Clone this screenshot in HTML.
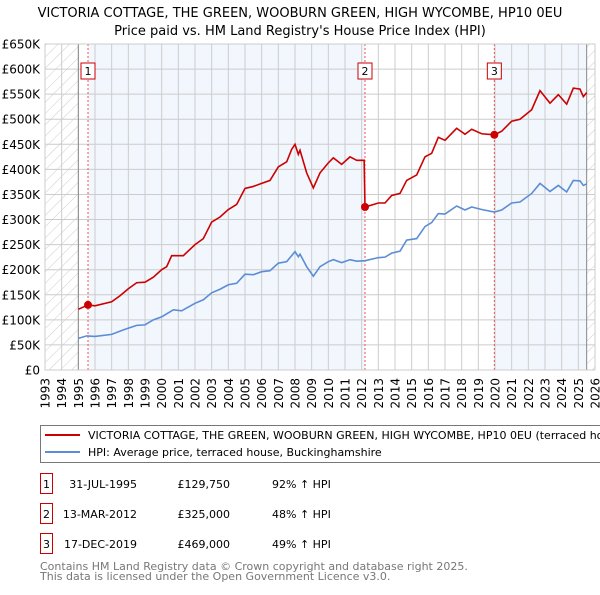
<!DOCTYPE html>
<html><head><meta charset="utf-8"><style>
body{margin:0;background:#fff;font-family:"Liberation Sans","DejaVu Sans",sans-serif;}
svg text{font-family:"DejaVu Sans","Liberation Sans",sans-serif;}
</style></head><body>
<svg id="c" width="600" height="590" xmlns="http://www.w3.org/2000/svg">
<defs><pattern id="hatch" width="8" height="8" patternUnits="userSpaceOnUse" patternTransform="rotate(45)"><rect width="8" height="8" fill="#fff"/><line x1="0" y1="0" x2="0" y2="8" stroke="#ccc" stroke-width="1"/></pattern></defs>
<text x="300" y="17" text-anchor="middle" font-size="13">VICTORIA COTTAGE, THE GREEN, WOOBURN GREEN, HIGH WYCOMBE, HP10 0EU</text>
<text x="300" y="35" text-anchor="middle" font-size="13">Price paid vs. HM Land Registry's House Price Index (HPI)</text>
<g id="plot"></g>
<rect x="40.5" y="425.5" width="570" height="37" fill="#fff" stroke="#777"/>
<line x1="45" y1="435" x2="80" y2="435" stroke="#cc0000" stroke-width="2"/>
<text x="88" y="439" font-size="11">VICTORIA COTTAGE, THE GREEN, WOOBURN GREEN, HIGH WYCOMBE, HP10 0EU (terraced house)</text>
<line x1="45" y1="452" x2="80" y2="452" stroke="#5b8dd6" stroke-width="2"/>
<text x="88" y="456" font-size="11">HPI: Average price, terraced house, Buckinghamshire</text>
<g id="table" font-size="11"></g>
<text x="40" y="570" font-size="11" fill="#777">Contains HM Land Registry data © Crown copyright and database right 2025.</text>
<text x="40" y="580" font-size="11" fill="#777">This data is licensed under the Open Government Licence v3.0.</text>
</svg>
<script>
const priceYears=[1995.0,1995.58,1996,1997,1997.5,1998,1998.5,1999,1999.5,2000,2000.3,2000.6,2001,2001.3,2002,2002.5,2003,2003.5,2004,2004.5,2005,2005.5,2006,2006.5,2007,2007.5,2007.8,2008.0,2008.2,2008.3,2008.7,2009.1,2009.5,2010,2010.3,2010.8,2011.3,2011.7,2012.15,2012.2,2013,2013.4,2013.8,2014.3,2014.7,2015.3,2015.8,2016.2,2016.6,2017,2017.7,2018.2,2018.6,2019.2,2019.96,2020.4,2021,2021.5,2022.2,2022.7,2023.3,2023.8,2024.3,2024.7,2025.1,2025.3,2025.5];
const priceValues=[121,129.75,128,136,148,162,174,175,185,200,206,228,228,228,250,262,295,305,320,330,362,366,372,378,405,415,440,450,430,438,393,363,393,413,423,410,425,418,418,325,333,333,348,352,378,389,425,432,464,458,482,470,480,471,469,476,496,500,519,557,532,549,530,562,560,545,553];
const hpiYears=[1995.0,1995.5,1996,1997,1997.7,1998.5,1999,1999.5,2000,2000.7,2001.2,2002,2002.5,2003,2003.5,2004,2004.5,2005,2005.5,2006,2006.5,2007,2007.5,2008,2008.2,2008.3,2008.7,2009.1,2009.5,2010,2010.3,2010.8,2011.3,2011.7,2012.2,2013,2013.4,2013.8,2014.3,2014.7,2015.3,2015.8,2016.2,2016.6,2017,2017.7,2018.2,2018.6,2019.2,2019.96,2020.4,2021,2021.5,2022.2,2022.7,2023.3,2023.8,2024.3,2024.7,2025.1,2025.3,2025.5];
const hpiValues=[63,68,67,71,80,89,90,100,106,120,118,133,140,154,161,170,173,191,190,196,198,213,216,236,226,231,206,187,206,216,220,214,220,217,218,224,225,233,237,259,262,286,294,312,311,327,319,325,320,315,319,333,335,352,372,356,368,355,378,377,368,371];
const saleYears=[1995.58,2012.2,2019.96];
const saleValues=[129.75,325,469];
const saleLabels=["1","2","3"];
const saleDates=["31-JUL-1995","13-MAR-2012","17-DEC-2019"];
const salePrices=["£129,750","£325,000","£469,000"];
const saleHpi=["92% ↑ HPI","48% ↑ HPI","49% ↑ HPI"];
const yTicks=[0,50,100,150,200,250,300,350,400,450,500,550,600,650];
const yTickLabels=["£0","£50K","£100K","£150K","£200K","£250K","£300K","£350K","£400K","£450K","£500K","£550K","£600K","£650K"];
const xTicks=[1993,1994,1995,1996,1997,1998,1999,2000,2001,2002,2003,2004,2005,2006,2007,2008,2009,2010,2011,2012,2013,2014,2015,2016,2017,2018,2019,2020,2021,2022,2023,2024,2025,2026];

const NS="http://www.w3.org/2000/svg";
const L=45,R=595,T=44,B=370;
const xs=y=>L+(y-1993)*(R-L)/33;
const ys=v=>B-v*(B-T)/650;
const g=document.getElementById('plot');
function mk(tag,attrs,parent){const e=document.createElementNS(NS,tag);for(const k in attrs)e.setAttribute(k,attrs[k]);(parent||g).appendChild(e);return e;}
let e;
e=mk('rect',{x:L,y:T,width:R-L,height:B-T,fill:'#fff'});


e=mk('rect',{x:xs(1995.58),y:T,width:xs(2012.2)-xs(1995.58),height:B-T,fill:'#f2f6fd'});


e=mk('rect',{x:xs(2019.96),y:T,width:xs(2025.5)-xs(2019.96),height:B-T,fill:'#f2f6fd'});


e=mk('rect',{x:L,y:T,width:xs(1995)-L,height:B-T,fill:'url(#hatch)'});


e=mk('rect',{x:xs(2025.5),y:T,width:R-xs(2025.5),height:B-T,fill:'url(#hatch)'});


xTicks.forEach(t=>{
  e=mk('line',{x1:xs(t),x2:xs(t),y1:T,y2:B,stroke:'#ccc','stroke-width':1});
  
  
  e=mk('text',{x:0,y:0,'font-size':12,'text-anchor':'end',transform:`translate(${xs(t)+4.5},378) rotate(-90)`});
  e.textContent=t;
  
  
});
yTicks.forEach((t,i)=>{
  e=mk('line',{x1:L,x2:R,y1:ys(t),y2:ys(t),stroke:'#ccc','stroke-width':1});
  
  
  e=mk('text',{x:40,y:ys(t)+4.5,'font-size':12,'text-anchor':'end'});
  e.textContent=yTickLabels[i];
  
  
});
e=mk('line',{x1:xs(1995),x2:xs(1995),y1:T,y2:B,stroke:'#888'});


e=mk('line',{x1:xs(2025.5),x2:xs(2025.5),y1:T,y2:B,stroke:'#888'});


saleYears.forEach((s,i)=>{
  e=mk('line',{x1:xs(s),x2:xs(s),y1:T,y2:B,stroke:'#e55','stroke-dasharray':'2,2','stroke-width':1});
  
  
});
e=mk('polyline',{points:hpiYears.map((y,i)=>xs(y)+','+ys(hpiValues[i])).join(' '),fill:'none',stroke:'#5b8dd6','stroke-width':1.6});


e=mk('polyline',{points:priceYears.map((y,i)=>xs(y)+','+ys(priceValues[i])).join(' '),fill:'none',stroke:'#cc0000','stroke-width':1.6});


saleYears.forEach((s,i)=>{
  e=mk('circle',{cx:xs(s),cy:ys(saleValues[i]),r:4,fill:'#cc0000'});
  
  
  e=mk('rect',{x:xs(s)-7,y:63,width:14,height:16,fill:'#fff',stroke:'#cc0000'});
  
  
  e=mk('text',{x:xs(s),y:75,'font-size':11,'text-anchor':'middle'});
  e.textContent=saleLabels[i];
  
  
});
e=mk('rect',{x:L,y:T,width:R-L,height:B-T,fill:'none',stroke:'#ccc'});


const tb=document.getElementById('table');
saleLabels.forEach((l,i)=>{
  const y=488+i*30;
  e=mk('rect',{x:40.5,y:y-14.5,width:12,height:20,fill:'#fff',stroke:'#cc0000'},tb);
  
  
  e=mk('text',{x:46.5,y:y,'text-anchor':'middle'},tb);e.textContent=l;
  
  
  e=mk('text',{x:137,y:y,'text-anchor':'end'},tb);e.textContent=saleDates[i];
  
  
  e=mk('text',{x:230,y:y,'text-anchor':'end'},tb);e.textContent=salePrices[i];
  
  
  e=mk('text',{x:272,y:y},tb);e.textContent=saleHpi[i];
  
  
});
</script>
</body></html>
